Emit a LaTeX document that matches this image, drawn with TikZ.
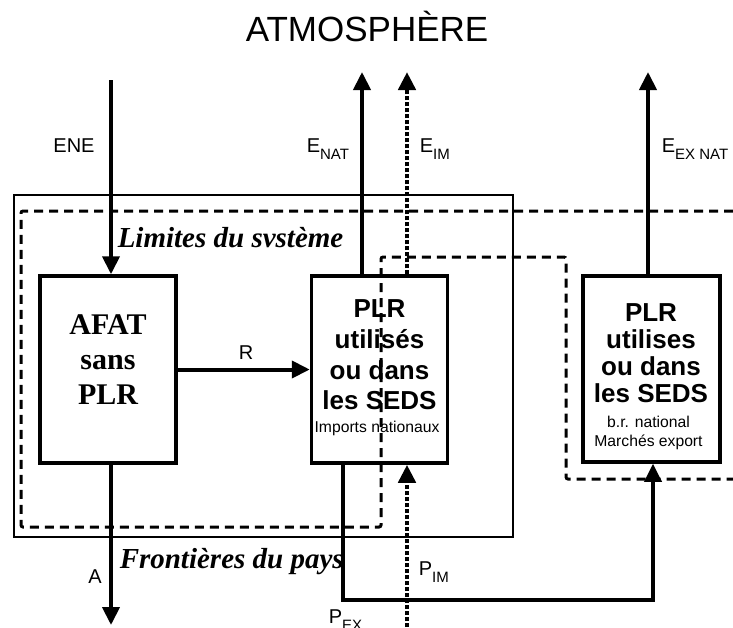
\documentclass[tikz,border=0pt]{standalone}
\usepackage{fontspec}
\setmainfont{Liberation Sans}
\newfontfamily\timesfont{Liberation Serif}
\usetikzlibrary{arrows.meta}
\newcommand{\lowsub}[1]{\raisebox{-7pt}{\fontsize{15}{15}\selectfont #1}}
\tikzset{
  every picture/.style={line width=3.5pt},
  box/.style={draw, minimum width=136pt, minimum height=187pt, inner sep=0pt},
  flow/.style={-{Triangle[length=18pt, width=17pt]}, line width=4pt},
  flowdot/.style={flow, dash pattern=on 4pt off 2pt, line width=4.5pt},
  limit/.style={line width=3pt, dash pattern=on 9pt off 6pt, rounded corners=2pt},
  frontier/.style={line width=2pt},
  lbl/.style={font=\fontsize{20}{20}\selectfont, anchor=base west, inner sep=0pt},
  bigtxt/.style={font=\fontsize{26}{30.7}\selectfont\bfseries, align=center, anchor=north, inner sep=0pt},
  smalltxt/.style={font=\fontsize{15.7}{19.5}\selectfont, align=center, inner sep=0pt},
  serif/.style={font=\fontsize{30}{35}\selectfont\timesfont\bfseries, align=center, inner sep=0pt},
  zone/.style={font=\fontsize{29}{29}\selectfont\timesfont\bfseries\itshape, anchor=base west, inner sep=0pt},
}
\begin{document}
\begin{tikzpicture}[x=1pt, y=-1pt]
\useasboundingbox (0,0) rectangle (733,627);
% boundaries
\draw[frontier] (14,195) rectangle (513,537);
\draw[limit] (733,211) -- (21,211) -- (21,527) -- (381,527) -- (381,257) -- (566,257) -- (566,479) -- (733,479);

% boxes
\node[box] (afat) at (108,369.5) {};
\node[box] (plrim) at (379.5,369.5) {};
\node[box, minimum width=137pt, minimum height=186pt] (plrex) at (651.5,369) {};

% texts
\node[font=\fontsize{35}{35}\selectfont, anchor=base] (atmo) at (367,41) {ATMOSPHÈRE};
\node[serif] (afattxt) at (108,360) {AFAT\\sans\\PLR};
\node[bigtxt] (plrimtxt) at (379.5,298) {PLR\\utilisés\\ou dans\\les SEDS};
\node[smalltxt, anchor=base] (plrimnote) at (377,432) {Imports nationaux};
\node[bigtxt, font=\fontsize{26}{27}\selectfont\bfseries] (plrextxt) at (651,302) {PLR\\utilises\\ou dans\\les SEDS};
\node[smalltxt, anchor=north] (plrexnote) at (648.5,414) {b.r. national\\Marchés export};
\node[zone] (limites) at (116,247) {Limites du svstème};
\node[zone] (frontieres) at (118,568) {Frontières du pays};

% flow ends
\coordinate (enetop) at (111,80);
\coordinate (abot) at (111,625);
\coordinate (enat) at (362,72);
\coordinate (eim) at (407,72);
\coordinate (eex) at (648,72);
\coordinate (pexl) at (343,600);
\coordinate (pexr) at (653,600);
\coordinate (pimbot) at (407,627);

% flows
\draw[flow] (enetop) -- (enetop |- afat.north);
\draw[flow] (afat.south -| abot) -- (abot);
\draw[flow] (afat.east) -- (plrim.west);
\draw[flow] (plrim.north -| enat) -- (enat);
\draw[flowdot] (plrim.north -| eim) -- (eim);
\draw[flow] (plrex.north -| eex) -- (eex);
\draw[flowdot] (pimbot) -- (plrim.south -| pimbot);
\draw[flow, line width=3.5pt] (plrim.south -| pexl) -- (pexl) -- (pexr) -- (plrex.south -| pexr);

% labels
\node[lbl, anchor=base] (ene) at (74,152) {ENE};
\node[lbl] (enatlbl) at (305,152) {E\lowsub{NAT}};
\node[lbl] (eimlbl) at (418,152) {E\lowsub{IM}};
\node[lbl] (eexlbl) at (660,152) {E\lowsub{EX NAT}};
\node[lbl, anchor=base] (rlbl) at (246,359) {R};
\node[lbl, anchor=base] (albl) at (95,583) {A};
\node[lbl] (pimlbl) at (417,575) {P\lowsub{IM}};
\node[lbl] (pexlbl) at (327,623) {P\lowsub{EX}};
\end{tikzpicture}
\end{document}
